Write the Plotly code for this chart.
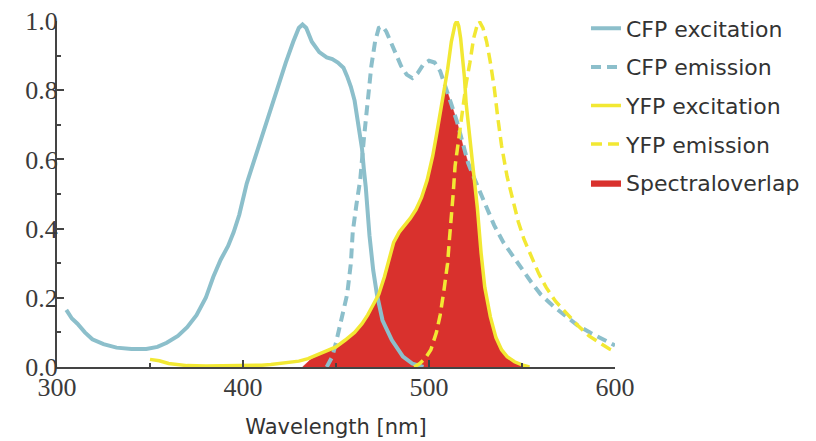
import plotly.graph_objects as go

# ---- data ----
cfp_ex_wl = [305, 308, 311, 315, 319, 325, 332, 340, 348, 354, 359, 365, 370, 375, 380, 384, 388, 392, 395, 398,
             402, 405, 409, 413, 417, 420, 423, 427, 430, 432, 434, 437, 441, 445, 448, 451, 454, 456, 458, 460,
             462, 464, 465, 466, 468, 470, 472, 475, 480, 486, 491, 497]
cfp_ex_val = [0.165, 0.14, 0.125, 0.10, 0.08, 0.066, 0.056, 0.052, 0.052, 0.058, 0.07, 0.09, 0.115, 0.15, 0.20, 0.26,
              0.31, 0.35, 0.39, 0.44, 0.53, 0.58, 0.65, 0.71, 0.78, 0.83, 0.88, 0.94, 0.98, 0.99, 0.98, 0.94, 0.91,
              0.895, 0.89, 0.88, 0.865, 0.84, 0.81, 0.77, 0.70, 0.63, 0.57, 0.52, 0.38, 0.28, 0.21, 0.135, 0.078,
              0.03, 0.01, 0.0]

cfp_em_wl = [445, 448, 450, 452, 454, 456, 458, 459, 461, 463, 465, 467, 469, 471, 473, 475, 477, 479, 482, 485,
             488, 491, 494, 497, 500, 503, 506, 509, 512, 515, 518, 521, 524, 527, 531, 535, 540, 545, 550, 555,
             560, 567, 574, 580, 587, 593, 600]
cfp_em_val = [0.0, 0.03, 0.07, 0.115, 0.16, 0.21, 0.30, 0.39, 0.47, 0.54, 0.66, 0.77, 0.87, 0.94, 0.98, 0.985, 0.97,
              0.945, 0.91, 0.87, 0.845, 0.835, 0.85, 0.875, 0.885, 0.88, 0.855, 0.81, 0.76, 0.71, 0.645, 0.59, 0.55,
              0.51, 0.46, 0.41, 0.36, 0.32, 0.28, 0.245, 0.21, 0.175, 0.145, 0.12, 0.098, 0.08, 0.062]

yfp_ex_wl = [350, 355, 360, 365, 370, 380, 390, 400, 410, 415, 420, 425, 430, 435, 440, 445, 450, 455, 460, 464,
             467, 470, 473, 476, 479, 481, 484, 487, 490, 493, 496, 499, 502, 504, 506, 508, 510, 512, 514, 515,
             516, 517, 518, 519, 520, 521, 522, 524, 526, 528, 530, 533, 536, 539, 542, 546, 550, 554]
yfp_ex_val = [0.022, 0.018, 0.01, 0.006, 0.004, 0.003, 0.003, 0.004, 0.005, 0.007, 0.01, 0.013, 0.017, 0.024, 0.035,
              0.046, 0.058, 0.078, 0.10, 0.125, 0.15, 0.18, 0.21, 0.26, 0.32, 0.36, 0.39, 0.41, 0.43, 0.455, 0.49,
              0.54, 0.61, 0.67, 0.73, 0.79, 0.86, 0.94, 0.99, 1.0, 0.985, 0.95, 0.90, 0.84, 0.76, 0.71, 0.67, 0.56,
              0.46, 0.33, 0.23, 0.145, 0.085, 0.05, 0.03, 0.015, 0.006, 0.0]

yfp_em_wl = [492, 495, 498, 501, 504, 506, 508, 510, 511, 512, 513, 514, 516, 518, 520, 522, 524, 526, 527, 529,
             531, 533, 535, 537, 539, 542, 545, 548, 551, 555, 559, 563, 568, 574, 580, 586, 592, 597, 600]
yfp_em_val = [0.0, 0.01, 0.025, 0.05, 0.10, 0.15, 0.22, 0.30, 0.37, 0.43, 0.50, 0.58, 0.66, 0.74, 0.82, 0.88, 0.95,
              0.99, 1.0, 0.98, 0.94, 0.88, 0.81, 0.72, 0.64, 0.55, 0.48, 0.42, 0.37, 0.32, 0.27, 0.23, 0.19, 0.155,
              0.12, 0.09, 0.07, 0.052, 0.045]

overlap_wl = [432, 436, 440, 445, 450, 455, 460, 464, 467, 470, 473, 476, 479, 481, 484, 487, 490, 493, 496, 499,
              502, 504, 506, 508, 509, 512, 515, 518, 521, 524, 526, 528, 530, 533, 536, 539, 542, 546, 550, 554]
overlap_val = [0.0, 0.02, 0.035, 0.046, 0.058, 0.078, 0.10, 0.125, 0.15, 0.18, 0.21, 0.26, 0.32, 0.36, 0.39, 0.41,
               0.43, 0.455, 0.49, 0.54, 0.61, 0.67, 0.73, 0.79, 0.81, 0.76, 0.71, 0.645, 0.59, 0.55, 0.46, 0.33,
               0.23, 0.145, 0.085, 0.05, 0.03, 0.015, 0.006, 0.0]

x_ticks = [300, 400, 500, 600]
y_ticks = [0.0, 0.2, 0.4, 0.6, 0.8, 1.0]
y_tick_labels = ["0.0", "0.2", "0.4", "0.6", "0.8", "1.0"]

BLUE = "#8cbfcb"
YELLOW = "#f2e833"
RED = "#d9312d"

fig = go.Figure()
fig.add_trace(go.Scatter(x=overlap_wl, y=overlap_val, mode="lines", fill="tozeroy",
                         fillcolor=RED, line=dict(color=RED, width=0.5),
                         name="Spectraloverlap", legendrank=5, legendgroup="e"))
fig.add_trace(go.Scatter(x=cfp_ex_wl, y=cfp_ex_val, mode="lines",
                         line=dict(color=BLUE, width=4), name="CFP excitation", legendrank=1, legendgroup="a"))
fig.add_trace(go.Scatter(x=cfp_em_wl, y=cfp_em_val, mode="lines",
                         line=dict(color=BLUE, width=4, dash="10px,6px"), name="CFP emission",
                         legendrank=2, legendgroup="b"))
fig.add_trace(go.Scatter(x=yfp_ex_wl, y=yfp_ex_val, mode="lines",
                         line=dict(color=YELLOW, width=3.5), name="YFP excitation", legendrank=3, legendgroup="c"))
fig.add_trace(go.Scatter(x=yfp_em_wl, y=yfp_em_val, mode="lines",
                         line=dict(color=YELLOW, width=3.5, dash="11px,6px"), name="YFP emission",
                         legendrank=4, legendgroup="d"))

tick_font = dict(family="Liberation Serif", size=26, color="#3a3a3a")
axis_common = dict(showline=True, linecolor="#444444", linewidth=2, ticks="inside", ticklen=7,
                   tickwidth=2, tickcolor="#444444", showgrid=False, zeroline=False, tickfont=tick_font,
                   ticklabeloverflow="allow")

fig.update_xaxes(range=[300, 600], tickvals=x_ticks, ticktext=[str(v) for v in x_ticks],
                 minor=dict(ticks="inside", ticklen=4, tickwidth=2, tickcolor="#444444", dtick=50, tick0=300),
                 ticklabelstandoff=-4,
                 title=dict(text="Wavelength [nm]", font=dict(family="DejaVu Sans", size=21, color="#333333"),
                            standoff=18),
                 **axis_common)
fig.update_yaxes(range=[0, 1], tickvals=y_ticks, ticktext=y_tick_labels,
                 minor=dict(ticks="inside", ticklen=4, tickwidth=2, tickcolor="#444444", dtick=0.1, tick0=0),
                 ticklabelstandoff=-8,
                 **axis_common)

# the page body adds an 8 px offset, so the figure is 8 px smaller and shifted margins compensate
fig.update_layout(
    width=808, height=433,
    margin=dict(l=49, r=201, t=13, b=74, autoexpand=False),
    plot_bgcolor="white", paper_bgcolor="white",
    showlegend=True,
    legend=dict(x=0.948, xanchor="left", y=1.039, yanchor="top",
                font=dict(family="DejaVu Sans", size=22, color="#333333"),
                bgcolor="rgba(0,0,0,0)", traceorder="grouped", tracegroupgap=7,
                itemsizing="trace"),
)

fig.write_html("out.html")
